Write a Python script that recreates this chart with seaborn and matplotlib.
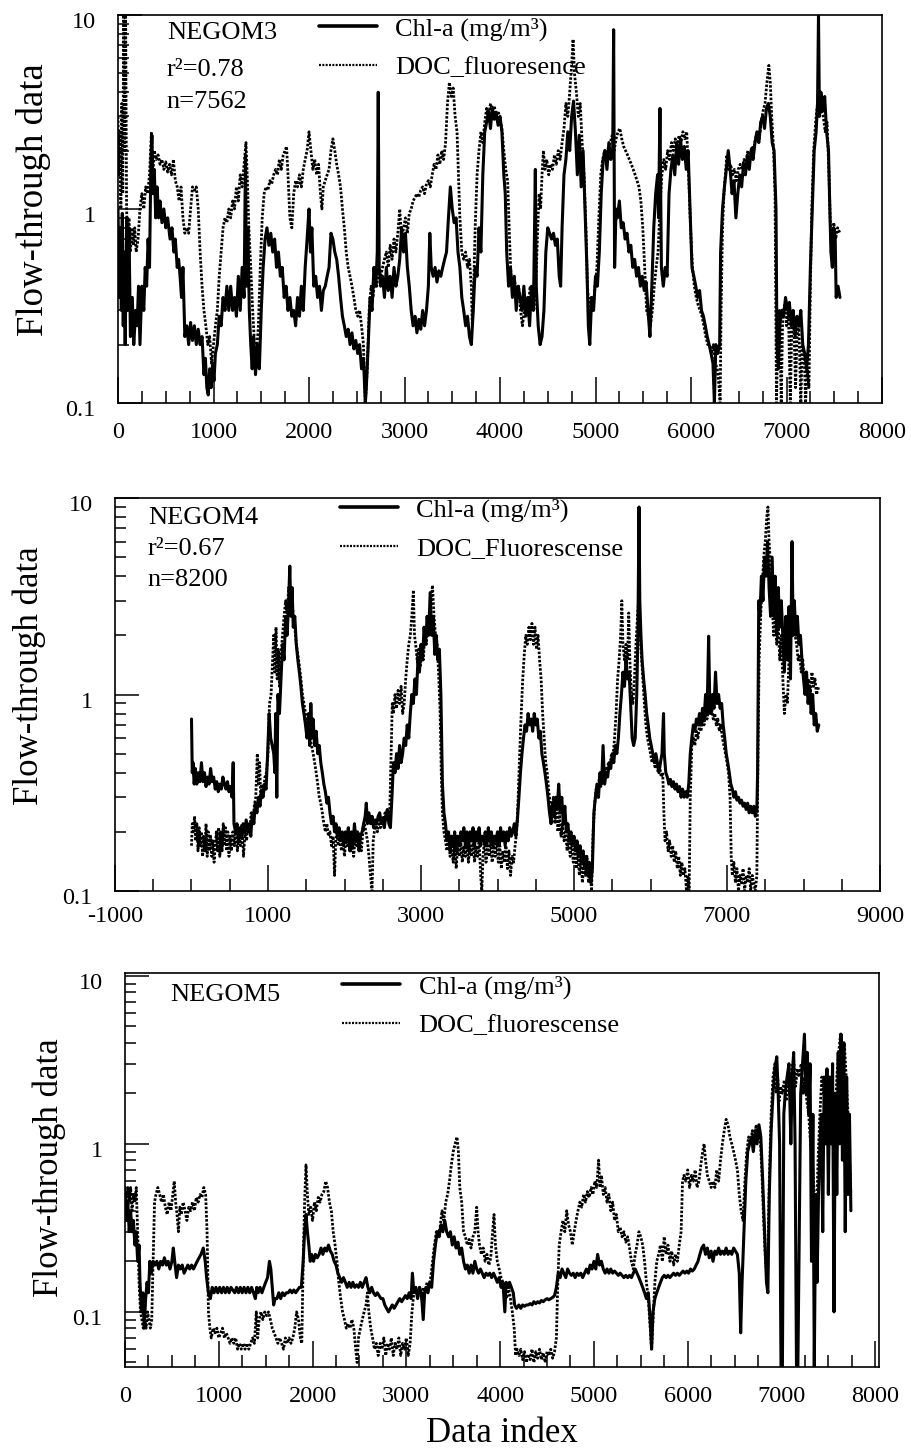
import matplotlib
matplotlib.use("Agg")
import numpy as np
import pandas as pd
import matplotlib.pyplot as plt
import matplotlib.transforms as mtransforms
from matplotlib.ticker import FixedLocator, FixedFormatter, LogLocator, NullFormatter
import seaborn as sns

# ---------------- data: (data index, value) pairs ----------------
negom3_chl = [(0,1.0),(15,0.35),(25,0.8),(35,0.3),(45,0.95),(55,0.25),(65,0.6),(75,0.2),(90,0.9),(100,0.3),(115,0.8),(130,0.22),(150,0.35),(165,0.2),(185,0.3),(200,0.25),(215,0.4),(230,0.2),(250,0.4),(270,0.3),(285,0.5),(300,0.4),(315,0.7),(330,0.5),(345,1.8),(355,2.4),(365,1.2),(380,1.6),(395,0.9),(410,1.3),(425,0.9),(440,1.1),(460,0.85),(480,1.0),(500,0.8),(520,0.9),(545,0.7),(565,0.8),(585,0.6),(600,0.7),(620,0.5),(635,0.55),(650,0.45),(665,0.35),(680,0.5),(700,0.22),(720,0.25),(740,0.2),(760,0.26),(780,0.21),(800,0.25),(820,0.2),(840,0.24),(860,0.2),(880,0.22),(900,0.14),(915,0.17),(930,0.12),(945,0.11),(960,0.15),(975,0.12),(990,0.16),(1005,0.13),(1020,0.18),(1040,0.2),(1060,0.28),(1080,0.25),(1100,0.35),(1120,0.3),(1140,0.4),(1160,0.3),(1180,0.4),(1200,0.3),(1220,0.35),(1240,0.28),(1260,0.45),(1280,0.3),(1300,0.5),(1320,0.35),(1335,1.9),(1345,0.4),(1360,0.8),(1375,0.3),(1390,0.2),(1405,0.15),(1420,0.22),(1440,0.14),(1460,0.2),(1480,0.15),(1500,0.3),(1520,0.5),(1540,0.7),(1560,0.8),(1580,0.65),(1600,0.75),(1620,0.6),(1640,0.7),(1660,0.5),(1680,0.6),(1700,0.45),(1720,0.5),(1740,0.35),(1760,0.4),(1780,0.3),(1800,0.35),(1820,0.28),(1840,0.3),(1860,0.25),(1880,0.35),(1900,0.28),(1920,0.4),(1940,0.3),(1960,0.5),(1980,0.7),(2000,1.0),(2015,0.6),(2030,0.8),(2050,0.4),(2070,0.45),(2090,0.35),(2110,0.4),(2130,0.3),(2150,0.38),(2170,0.4),(2190,0.45),(2210,0.5),(2230,0.75),(2250,0.7),(2270,0.6),(2290,0.55),(2310,0.45),(2330,0.35),(2350,0.28),(2370,0.25),(2390,0.22),(2410,0.24),(2430,0.2),(2450,0.23),(2470,0.19),(2490,0.21),(2510,0.18),(2530,0.2),(2550,0.15),(2570,0.17),(2590,0.1),(2600,0.12),(2620,0.2),(2640,0.35),(2660,0.3),(2680,0.5),(2700,0.4),(2715,0.6),(2725,4.0),(2735,0.5),(2750,0.4),(2770,0.45),(2790,0.35),(2810,0.5),(2830,0.38),(2850,0.45),(2870,0.35),(2890,0.5),(2910,0.4),(2930,0.45),(2950,0.55),(2970,0.8),(2990,0.6),(3010,0.75),(3030,0.5),(3050,0.4),(3070,0.3),(3090,0.25),(3110,0.28),(3130,0.23),(3150,0.27),(3170,0.24),(3190,0.3),(3210,0.25),(3230,0.3),(3250,0.4),(3265,0.75),(3280,0.5),(3300,0.45),(3320,0.5),(3340,0.42),(3360,0.48),(3380,0.45),(3400,0.5),(3420,0.55),(3440,0.6),(3460,0.9),(3480,1.3),(3500,1.0),(3520,0.85),(3540,0.9),(3560,0.6),(3580,0.5),(3600,0.35),(3620,0.3),(3640,0.25),(3660,0.28),(3680,0.22),(3700,0.2),(3720,0.3),(3740,0.5),(3760,0.45),(3780,0.8),(3800,0.6),(3820,1.5),(3840,2.5),(3860,2.8),(3880,3.2),(3900,2.6),(3920,3.3),(3940,2.9),(3960,3.1),(3980,2.7),(4000,3.0),(4020,2.5),(4040,1.5),(4055,1.2),(4070,0.6),(4090,0.4),(4110,0.5),(4130,0.35),(4150,0.45),(4170,0.3),(4190,0.4),(4210,0.35),(4230,0.3),(4250,0.4),(4270,0.28),(4290,0.35),(4310,0.25),(4330,0.4),(4350,0.3),(4370,1.6),(4380,0.4),(4400,0.25),(4420,0.2),(4440,0.22),(4460,0.3),(4480,0.6),(4500,0.8),(4520,0.75),(4540,0.7),(4560,0.75),(4580,0.65),(4600,0.7),(4620,0.45),(4635,0.4),(4650,0.8),(4670,1.5),(4690,1.8),(4710,2.5),(4730,2.0),(4750,3.0),(4770,3.6),(4790,2.5),(4810,1.5),(4830,2.4),(4850,1.3),(4870,2.0),(4890,1.0),(4910,0.5),(4925,0.25),(4940,0.2),(4960,0.35),(4980,0.3),(5000,0.45),(5020,0.4),(5040,0.6),(5060,1.2),(5080,1.8),(5100,2.0),(5120,1.6),(5140,2.2),(5160,1.8),(5180,2.0),(5190,8.4),(5200,0.5),(5215,1.0),(5230,0.9),(5250,1.1),(5270,0.8),(5290,0.85),(5310,0.7),(5330,0.75),(5350,0.6),(5370,0.65),(5390,0.5),(5410,0.55),(5430,0.45),(5450,0.5),(5470,0.4),(5490,0.45),(5510,0.38),(5530,0.42),(5550,0.3),(5570,0.22),(5590,0.4),(5610,0.8),(5630,1.2),(5650,1.5),(5660,0.9),(5675,3.3),(5690,0.5),(5710,0.4),(5730,0.5),(5750,0.45),(5770,1.2),(5790,1.6),(5810,1.9),(5830,1.5),(5850,2.2),(5870,1.7),(5890,2.3),(5910,1.8),(5930,2.1),(5950,1.6),(5970,2.0),(5990,1.0),(6010,0.5),(6030,0.45),(6050,0.4),(6070,0.35),(6090,0.38),(6110,0.3),(6130,0.28),(6150,0.25),(6170,0.22),(6190,0.2),(6210,0.18),(6230,0.16),(6245,0.1),(6260,0.2),(6280,0.18),(6300,0.2),(6310,0.6),(6330,1.0),(6350,1.3),(6370,1.6),(6390,2.0),(6410,1.6),(6430,1.2),(6450,1.4),(6470,0.9),(6490,1.2),(6510,1.5),(6530,1.3),(6550,1.7),(6570,1.5),(6590,1.9),(6610,1.6),(6630,2.0),(6650,1.8),(6670,2.2),(6690,2.5),(6710,2.2),(6730,2.8),(6750,3.0),(6770,2.6),(6790,3.3),(6810,3.5),(6830,3.0),(6850,2.2),(6870,2.0),(6890,1.0),(6900,0.2),(6915,0.15),(6930,0.25),(6950,0.3),(6970,0.28),(6990,0.35),(7010,0.3),(7030,0.33),(7050,0.25),(7070,0.3),(7090,0.22),(7110,0.28),(7130,0.25),(7150,0.3),(7170,0.2),(7190,0.18),(7210,0.15),(7230,0.2),(7250,0.5),(7270,1.0),(7290,2.0),(7310,2.5),(7325,3.5),(7335,10.0),(7345,3.0),(7360,4.0),(7380,3.2),(7400,3.8),(7420,2.5),(7440,2.0),(7450,1.2),(7465,0.6),(7480,0.5),(7495,0.8),(7510,0.7),(7520,0.35),(7540,0.4),(7560,0.35)]

negom3_doc = [(0,3.0),(10,1.5),(20,2.5),(30,1.0),(40,3.5),(50,1.2),(60,10.0),(70,2.0),(80,10.0),(90,1.0),(100,0.7),(115,0.9),(130,0.6),(145,0.8),(160,0.65),(175,0.8),(190,0.6),(210,0.7),(230,1.0),(250,1.2),(270,1.0),(290,1.3),(310,1.2),(330,1.5),(350,2.5),(365,1.5),(380,2.0),(400,1.8),(420,1.9),(440,1.7),(460,1.8),(480,1.6),(500,1.75),(520,1.55),(540,1.7),(560,1.5),(580,1.8),(600,1.4),(620,1.3),(640,1.1),(660,1.3),(680,0.9),(700,0.75),(720,0.8),(740,0.75),(760,1.0),(780,1.3),(800,1.25),(820,1.3),(840,1.0),(860,0.6),(880,0.4),(900,0.3),(920,0.25),(940,0.2),(960,0.22),(980,0.16),(1000,0.2),(1020,0.25),(1040,0.3),(1060,0.45),(1080,0.6),(1100,0.8),(1120,0.9),(1140,0.85),(1160,1.0),(1180,0.9),(1200,1.1),(1220,1.0),(1240,1.3),(1260,1.1),(1280,1.5),(1300,1.3),(1320,1.7),(1340,2.2),(1355,1.4),(1370,0.8),(1390,0.5),(1410,0.3),(1430,0.2),(1450,0.18),(1470,0.25),(1490,0.5),(1510,0.9),(1530,1.2),(1550,1.3),(1570,1.25),(1590,1.4),(1610,1.35),(1630,1.5),(1650,1.6),(1670,1.5),(1690,1.8),(1710,1.6),(1730,1.9),(1750,2.0),(1765,2.1),(1780,1.5),(1800,0.9),(1820,0.8),(1840,1.2),(1860,1.4),(1880,1.3),(1900,1.5),(1920,1.3),(1940,1.6),(1960,1.8),(1980,2.0),(2000,2.5),(2020,2.0),(2040,1.6),(2060,1.8),(2080,1.5),(2100,1.7),(2120,1.2),(2135,1.0),(2150,1.3),(2170,1.4),(2190,1.5),(2210,1.6),(2230,2.0),(2250,2.3),(2270,2.0),(2290,1.7),(2310,1.5),(2330,1.3),(2350,1.0),(2370,0.8),(2390,0.6),(2410,0.5),(2430,0.45),(2450,0.4),(2470,0.35),(2490,0.3),(2510,0.28),(2530,0.3),(2550,0.25),(2570,0.2),(2590,0.1),(2610,0.15),(2630,0.3),(2650,0.4),(2670,0.35),(2690,0.45),(2710,0.4),(2730,0.5),(2750,0.45),(2770,0.5),(2790,0.55),(2810,0.6),(2830,0.5),(2850,0.65),(2870,0.55),(2890,0.7),(2910,0.6),(2930,0.75),(2950,1.0),(2970,0.7),(2990,0.8),(3010,0.9),(3030,0.75),(3050,0.95),(3070,1.0),(3090,1.1),(3110,1.15),(3130,1.2),(3150,1.15),(3170,1.25),(3190,1.3),(3210,1.2),(3230,1.35),(3250,1.4),(3270,1.3),(3290,1.5),(3310,1.7),(3330,1.6),(3350,1.9),(3370,1.7),(3390,2.0),(3410,1.8),(3430,2.2),(3450,3.5),(3470,4.5),(3490,3.8),(3510,4.2),(3530,3.0),(3550,2.5),(3565,1.5),(3580,0.9),(3600,0.6),(3620,0.55),(3640,0.6),(3660,0.5),(3680,0.55),(3700,0.4),(3710,0.25),(3725,0.4),(3740,0.8),(3760,1.5),(3780,2.0),(3800,2.5),(3820,2.2),(3840,2.8),(3860,3.3),(3880,3.0),(3900,3.5),(3920,3.2),(3940,3.4),(3960,3.0),(3980,3.2),(4000,2.9),(4020,2.6),(4040,2.0),(4060,1.6),(4080,1.4),(4100,0.7),(4115,0.45),(4135,0.4),(4155,0.42),(4175,0.35),(4195,0.4),(4215,0.3),(4235,0.25),(4255,0.3),(4275,0.35),(4295,0.3),(4315,0.4),(4335,0.35),(4355,0.3),(4375,0.4),(4395,0.8),(4410,1.2),(4425,1.0),(4440,1.5),(4455,2.0),(4470,1.6),(4490,1.8),(4510,1.5),(4530,1.7),(4550,1.6),(4570,1.9),(4590,1.7),(4610,2.0),(4630,1.8),(4650,2.2),(4670,2.6),(4690,3.5),(4710,3.0),(4730,4.0),(4750,5.5),(4765,7.5),(4780,5.0),(4800,4.0),(4820,3.0),(4840,3.5),(4860,2.2),(4880,1.5),(4900,0.8),(4915,0.4),(4935,0.3),(4955,0.35),(4975,0.3),(4995,0.4),(5015,0.5),(5035,0.9),(5055,1.5),(5075,1.8),(5095,2.0),(5115,1.7),(5135,2.1),(5155,2.2),(5175,2.4),(5195,2.0),(5215,2.3),(5235,2.5),(5255,2.6),(5275,2.3),(5295,2.1),(5315,2.0),(5335,1.9),(5355,1.8),(5375,1.7),(5395,1.6),(5415,1.5),(5435,1.4),(5455,1.3),(5475,1.1),(5495,0.8),(5515,0.5),(5535,0.3),(5555,0.28),(5575,0.25),(5595,0.3),(5615,0.4),(5635,0.5),(5655,0.6),(5675,1.0),(5695,1.5),(5715,1.8),(5735,1.6),(5755,2.0),(5775,1.8),(5795,2.2),(5815,2.0),(5835,2.3),(5855,2.1),(5875,2.4),(5895,2.2),(5915,2.5),(5935,2.3),(5955,2.5),(5975,1.5),(5995,0.8),(6015,0.5),(6035,0.4),(6055,0.35),(6075,0.32),(6095,0.3),(6115,0.28),(6135,0.25),(6155,0.22),(6175,0.2),(6195,0.2),(6215,0.18),(6235,0.2),(6255,0.16),(6275,0.15),(6295,0.12),(6305,0.1),(6315,0.3),(6330,0.8),(6345,1.2),(6360,1.5),(6375,1.9),(6395,1.6),(6415,1.7),(6435,1.5),(6455,1.6),(6475,1.4),(6495,1.6),(6515,1.7),(6535,1.6),(6555,1.8),(6575,1.7),(6595,2.0),(6615,1.8),(6635,2.1),(6655,2.0),(6675,2.3),(6695,2.5),(6715,2.3),(6735,2.8),(6755,3.2),(6775,3.5),(6795,4.5),(6815,5.5),(6830,4.5),(6845,3.0),(6865,2.0),(6880,1.2),(6895,0.1),(6910,0.25),(6925,0.3),(6945,0.1),(6960,0.28),(6980,0.32),(7000,0.25),(7020,0.3),(7040,0.1),(7055,0.25),(7075,0.28),(7095,0.12),(7110,0.22),(7130,0.25),(7150,0.1),(7165,0.2),(7185,0.18),(7200,0.1),(7215,0.15),(7235,0.12),(7250,0.4),(7265,1.0),(7285,2.0),(7305,2.8),(7325,3.5),(7345,3.8),(7365,3.2),(7385,3.0),(7405,2.5),(7425,2.8),(7445,1.5),(7460,0.8),(7475,0.6),(7495,0.85),(7515,0.7),(7535,0.8),(7560,0.75)]

negom4_chl = [(0,0.75),(10,0.4),(20,0.45),(35,0.35),(50,0.42),(70,0.35),(90,0.4),(110,0.36),(130,0.45),(150,0.36),(170,0.4),(190,0.34),(210,0.38),(230,0.35),(250,0.42),(270,0.36),(290,0.38),(310,0.33),(330,0.36),(350,0.32),(370,0.35),(390,0.33),(410,0.38),(430,0.35),(450,0.33),(470,0.36),(490,0.32),(510,0.34),(530,0.3),(545,0.45),(555,0.22),(575,0.2),(595,0.22),(615,0.18),(635,0.21),(655,0.19),(675,0.22),(695,0.2),(715,0.23),(735,0.2),(755,0.22),(775,0.19),(795,0.25),(815,0.22),(835,0.28),(855,0.25),(875,0.3),(895,0.27),(915,0.32),(935,0.3),(955,0.35),(975,0.33),(995,0.5),(1015,0.8),(1035,0.6),(1055,0.55),(1075,0.5),(1090,0.4),(1100,0.8),(1115,0.3),(1130,1.0),(1150,0.8),(1170,1.2),(1190,1.8),(1210,1.5),(1230,2.5),(1250,2.0),(1270,3.0),(1285,4.5),(1300,2.5),(1315,3.5),(1330,2.2),(1350,2.5),(1370,1.8),(1390,1.5),(1410,1.3),(1430,1.1),(1450,0.9),(1470,0.8),(1490,0.7),(1510,0.6),(1530,0.8),(1545,0.55),(1560,0.9),(1575,0.6),(1590,0.75),(1610,0.55),(1630,0.65),(1650,0.5),(1670,0.55),(1690,0.45),(1710,0.4),(1730,0.35),(1750,0.32),(1770,0.28),(1790,0.3),(1810,0.25),(1830,0.22),(1850,0.24),(1870,0.2),(1890,0.22),(1910,0.19),(1930,0.21),(1950,0.18),(1970,0.2),(1990,0.17),(2010,0.2),(2030,0.18),(2050,0.21),(2070,0.16),(2090,0.2),(2110,0.17),(2130,0.22),(2150,0.18),(2170,0.2),(2190,0.16),(2210,0.19),(2230,0.2),(2250,0.22),(2270,0.24),(2285,0.28),(2300,0.22),(2320,0.25),(2340,0.22),(2360,0.24),(2380,0.21),(2400,0.23),(2420,0.22),(2440,0.24),(2460,0.25),(2480,0.22),(2500,0.23),(2520,0.21),(2540,0.24),(2560,0.26),(2580,0.22),(2600,0.21),(2620,0.3),(2640,0.45),(2660,0.4),(2680,0.5),(2700,0.42),(2720,0.55),(2740,0.45),(2760,0.5),(2780,0.6),(2800,0.55),(2820,0.7),(2840,0.6),(2860,0.8),(2880,1.0),(2900,0.9),(2920,1.2),(2940,1.0),(2960,1.5),(2980,1.3),(3000,1.8),(3020,1.5),(3040,2.2),(3060,1.8),(3080,2.5),(3100,2.0),(3120,3.3),(3140,2.0),(3160,2.5),(3180,1.6),(3200,2.0),(3220,1.5),(3240,1.7),(3260,1.0),(3280,0.35),(3300,0.25),(3320,0.22),(3340,0.18),(3360,0.2),(3380,0.16),(3400,0.19),(3420,0.17),(3440,0.2),(3460,0.16),(3480,0.19),(3500,0.17),(3520,0.2),(3540,0.18),(3560,0.21),(3580,0.17),(3600,0.2),(3620,0.16),(3640,0.2),(3660,0.18),(3680,0.21),(3700,0.17),(3720,0.2),(3740,0.18),(3760,0.21),(3780,0.17),(3800,0.19),(3820,0.18),(3840,0.2),(3860,0.17),(3880,0.21),(3900,0.18),(3920,0.2),(3940,0.17),(3960,0.19),(3980,0.18),(4000,0.2),(4020,0.17),(4040,0.21),(4060,0.18),(4080,0.2),(4100,0.17),(4120,0.2),(4140,0.18),(4160,0.21),(4180,0.19),(4200,0.2),(4220,0.22),(4240,0.19),(4260,0.23),(4280,0.3),(4300,0.4),(4320,0.5),(4340,0.6),(4360,0.7),(4380,0.65),(4400,0.8),(4420,0.7),(4440,0.75),(4460,0.65),(4480,0.8),(4500,0.7),(4520,0.75),(4540,0.6),(4560,0.65),(4580,0.5),(4600,0.45),(4620,0.4),(4640,0.35),(4660,0.3),(4680,0.25),(4700,0.22),(4720,0.28),(4740,0.24),(4760,0.3),(4780,0.26),(4800,0.35),(4820,0.25),(4840,0.3),(4860,0.22),(4880,0.27),(4900,0.2),(4920,0.22),(4940,0.18),(4960,0.2),(4980,0.17),(5000,0.19),(5020,0.16),(5040,0.18),(5060,0.15),(5080,0.17),(5100,0.14),(5120,0.16),(5140,0.13),(5160,0.15),(5180,0.12),(5200,0.14),(5220,0.11),(5240,0.13),(5260,0.25),(5280,0.3),(5300,0.35),(5320,0.3),(5340,0.4),(5360,0.35),(5380,0.55),(5400,0.35),(5420,0.4),(5440,0.38),(5460,0.45),(5480,0.42),(5500,0.5),(5520,0.45),(5540,0.55),(5560,0.5),(5580,0.6),(5600,0.8),(5620,1.0),(5640,1.3),(5660,1.1),(5680,1.5),(5700,1.2),(5720,1.3),(5740,0.9),(5760,0.6),(5780,0.55),(5800,0.6),(5820,1.0),(5835,2.0),(5850,9.0),(5860,3.0),(5875,2.0),(5890,1.5),(5910,1.2),(5930,1.0),(5950,0.8),(5970,0.7),(5990,0.6),(6010,0.55),(6030,0.5),(6050,0.45),(6070,0.5),(6090,0.45),(6110,0.4),(6130,0.45),(6150,0.5),(6170,0.8),(6180,0.5),(6200,0.4),(6220,0.38),(6240,0.35),(6260,0.37),(6280,0.34),(6300,0.36),(6320,0.33),(6340,0.35),(6360,0.32),(6380,0.34),(6400,0.3),(6420,0.33),(6440,0.3),(6460,0.32),(6480,0.3),(6500,0.35),(6520,0.5),(6540,0.6),(6560,0.7),(6580,0.65),(6600,0.75),(6620,0.7),(6640,0.8),(6660,0.7),(6680,0.85),(6700,0.75),(6720,1.0),(6740,0.8),(6760,1.98),(6775,0.9),(6790,0.8),(6810,1.0),(6830,0.85),(6850,1.3),(6870,0.9),(6890,1.0),(6910,0.85),(6930,0.9),(6950,0.7),(6970,0.6),(6990,0.5),(7010,0.45),(7030,0.4),(7050,0.35),(7070,0.33),(7090,0.3),(7110,0.32),(7130,0.29),(7150,0.3),(7170,0.28),(7190,0.29),(7210,0.27),(7230,0.28),(7250,0.26),(7270,0.28),(7290,0.25),(7310,0.27),(7330,0.25),(7350,0.27),(7370,0.24),(7390,0.26),(7400,0.4),(7415,3.0),(7430,2.5),(7450,4.0),(7470,3.0),(7490,5.0),(7510,4.0),(7530,6.0),(7550,3.5),(7570,2.5),(7590,5.0),(7610,2.5),(7630,4.0),(7650,2.0),(7670,3.5),(7690,2.2),(7710,3.0),(7730,2.0),(7750,1.3),(7770,2.5),(7790,1.5),(7810,2.8),(7830,1.2),(7850,6.0),(7865,2.0),(7880,3.0),(7900,2.0),(7920,2.5),(7940,1.8),(7960,2.0),(7980,1.5),(8000,1.2),(8020,1.0),(8040,1.3),(8060,0.9),(8080,1.1),(8100,0.8),(8120,1.0),(8140,0.7),(8160,0.8),(8180,0.65),(8200,0.7)]

negom4_doc = [(0,0.17),(10,0.22),(25,0.2),(40,0.24),(55,0.18),(70,0.22),(85,0.16),(100,0.21),(115,0.17),(130,0.2),(145,0.15),(160,0.19),(175,0.16),(190,0.22),(205,0.15),(220,0.2),(235,0.16),(250,0.19),(265,0.15),(280,0.18),(295,0.14),(310,0.17),(325,0.2),(340,0.16),(355,0.21),(370,0.15),(385,0.2),(400,0.16),(415,0.22),(430,0.17),(445,0.21),(460,0.16),(475,0.2),(490,0.15),(505,0.19),(520,0.16),(540,0.2),(560,0.17),(580,0.21),(600,0.16),(620,0.2),(640,0.17),(660,0.22),(680,0.15),(700,0.2),(720,0.18),(740,0.22),(760,0.2),(780,0.25),(800,0.22),(820,0.27),(840,0.3),(860,0.5),(875,0.35),(890,0.45),(905,0.3),(920,0.35),(940,0.32),(960,0.38),(980,0.4),(1000,0.5),(1020,0.9),(1040,1.0),(1060,1.5),(1075,2.0),(1090,1.3),(1105,2.2),(1120,1.2),(1135,1.7),(1150,1.1),(1170,1.6),(1190,2.0),(1210,2.5),(1230,3.0),(1250,2.6),(1270,3.5),(1290,2.8),(1310,3.2),(1330,2.5),(1350,2.2),(1370,1.8),(1390,1.6),(1410,1.4),(1430,1.2),(1450,1.0),(1470,0.9),(1490,0.8),(1510,0.75),(1530,0.7),(1550,0.6),(1570,0.55),(1590,0.5),(1610,0.45),(1630,0.4),(1650,0.35),(1670,0.3),(1690,0.28),(1710,0.25),(1730,0.22),(1750,0.2),(1770,0.22),(1790,0.19),(1810,0.2),(1830,0.17),(1850,0.19),(1870,0.12),(1885,0.18),(1900,0.2),(1920,0.17),(1940,0.19),(1960,0.16),(1980,0.18),(2000,0.15),(2020,0.19),(2040,0.17),(2060,0.2),(2080,0.16),(2100,0.18),(2120,0.15),(2140,0.19),(2160,0.17),(2180,0.2),(2200,0.18),(2220,0.16),(2240,0.2),(2260,0.22),(2280,0.2),(2300,0.18),(2320,0.15),(2340,0.12),(2360,0.1),(2375,0.18),(2390,0.2),(2410,0.22),(2430,0.2),(2450,0.23),(2470,0.21),(2490,0.24),(2510,0.22),(2530,0.25),(2550,0.23),(2570,0.26),(2590,0.24),(2610,0.5),(2625,0.9),(2640,0.8),(2660,1.0),(2680,0.85),(2700,1.05),(2720,0.9),(2740,1.1),(2760,0.8),(2780,0.9),(2800,1.2),(2820,1.5),(2840,1.8),(2860,2.0),(2880,2.5),(2900,3.4),(2915,2.0),(2930,1.8),(2950,1.5),(2970,1.7),(2990,1.4),(3010,1.6),(3030,1.5),(3050,2.0),(3070,1.8),(3090,2.5),(3110,2.2),(3130,3.0),(3150,3.6),(3170,2.5),(3190,2.0),(3210,1.8),(3230,1.3),(3250,0.8),(3265,0.4),(3280,0.25),(3300,0.2),(3320,0.18),(3340,0.16),(3360,0.19),(3380,0.15),(3400,0.18),(3420,0.14),(3440,0.17),(3460,0.13),(3480,0.17),(3500,0.15),(3520,0.18),(3540,0.14),(3560,0.17),(3580,0.15),(3600,0.18),(3620,0.14),(3640,0.17),(3660,0.15),(3680,0.18),(3700,0.14),(3720,0.17),(3740,0.15),(3760,0.18),(3780,0.12),(3795,0.1),(3810,0.15),(3830,0.18),(3850,0.14),(3870,0.17),(3890,0.15),(3910,0.18),(3930,0.14),(3950,0.17),(3970,0.15),(3990,0.18),(4010,0.14),(4030,0.17),(4050,0.13),(4070,0.16),(4090,0.14),(4110,0.17),(4130,0.13),(4150,0.16),(4170,0.12),(4190,0.15),(4210,0.14),(4230,0.17),(4250,0.2),(4270,0.3),(4290,0.5),(4310,0.8),(4330,1.2),(4350,1.6),(4370,2.0),(4390,1.8),(4410,2.2),(4430,1.9),(4450,2.3),(4470,1.8),(4490,2.2),(4510,1.7),(4530,2.0),(4550,1.5),(4570,1.2),(4590,0.8),(4610,0.6),(4630,0.45),(4650,0.4),(4670,0.32),(4690,0.28),(4710,0.25),(4730,0.3),(4750,0.22),(4770,0.28),(4790,0.2),(4810,0.25),(4830,0.19),(4850,0.22),(4870,0.18),(4890,0.2),(4910,0.16),(4930,0.19),(4950,0.15),(4970,0.18),(4990,0.14),(5010,0.17),(5030,0.13),(5050,0.16),(5070,0.12),(5090,0.15),(5110,0.11),(5130,0.14),(5150,0.12),(5170,0.15),(5190,0.11),(5210,0.13),(5230,0.1),(5250,0.2),(5270,0.28),(5290,0.33),(5310,0.3),(5330,0.38),(5350,0.34),(5370,0.4),(5390,0.36),(5410,0.42),(5430,0.4),(5450,0.45),(5470,0.43),(5490,0.5),(5510,0.48),(5530,0.6),(5550,0.8),(5570,1.2),(5590,1.5),(5610,2.0),(5625,3.0),(5640,1.8),(5660,1.5),(5680,1.8),(5700,1.5),(5715,2.6),(5730,1.5),(5750,1.0),(5770,0.9),(5790,1.2),(5810,1.8),(5830,2.5),(5845,3.0),(5860,2.2),(5880,1.6),(5900,1.2),(5920,0.9),(5940,0.7),(5960,0.6),(5980,0.55),(6000,0.5),(6020,0.45),(6040,0.48),(6060,0.42),(6080,0.45),(6100,0.4),(6120,0.43),(6140,0.38),(6160,0.4),(6175,0.25),(6190,0.18),(6210,0.2),(6230,0.16),(6250,0.18),(6270,0.15),(6290,0.17),(6310,0.14),(6330,0.16),(6350,0.13),(6370,0.15),(6390,0.12),(6410,0.14),(6430,0.12),(6450,0.13),(6470,0.1),(6490,0.12),(6505,0.1),(6520,0.3),(6540,0.55),(6560,0.6),(6580,0.55),(6600,0.65),(6620,0.6),(6640,0.7),(6660,0.65),(6680,0.75),(6700,0.7),(6720,0.8),(6740,0.75),(6760,0.9),(6780,0.8),(6800,0.85),(6820,0.75),(6840,0.8),(6860,0.7),(6880,0.75),(6900,0.65),(6920,0.7),(6940,0.6),(6960,0.55),(6980,0.5),(7000,0.45),(7020,0.4),(7040,0.3),(7055,0.15),(7070,0.12),(7090,0.14),(7110,0.11),(7130,0.13),(7150,0.1),(7170,0.12),(7190,0.11),(7210,0.13),(7230,0.1),(7250,0.12),(7270,0.11),(7290,0.13),(7310,0.1),(7330,0.12),(7350,0.11),(7370,0.1),(7390,0.12),(7405,0.5),(7420,1.5),(7440,2.5),(7460,3.5),(7480,5.0),(7500,6.0),(7520,8.0),(7535,9.0),(7550,6.0),(7570,4.5),(7590,3.0),(7610,2.0),(7630,2.5),(7650,1.8),(7670,2.2),(7690,1.5),(7710,2.0),(7730,1.2),(7750,0.8),(7770,1.0),(7790,0.9),(7810,1.5),(7830,2.0),(7850,2.5),(7870,2.2),(7890,2.0),(7910,1.8),(7930,1.5),(7950,1.6),(7970,1.3),(7990,1.5),(8010,1.2),(8030,1.3),(8050,1.1),(8070,1.2),(8090,1.0),(8110,1.3),(8130,1.1),(8150,1.2),(8170,1.0),(8200,1.1)]

negom5_chl = [(0,0.55),(15,0.35),(30,0.45),(45,0.3),(60,0.4),(75,0.3),(90,0.35),(105,0.25),(120,0.3),(135,0.2),(150,0.25),(160,0.15),(175,0.1),(190,0.13),(205,0.08),(220,0.12),(235,0.15),(250,0.13),(265,0.2),(280,0.17),(300,0.2),(320,0.19),(340,0.2),(360,0.18),(380,0.2),(400,0.19),(420,0.21),(440,0.19),(460,0.2),(480,0.18),(500,0.2),(515,0.24),(530,0.2),(550,0.16),(570,0.19),(590,0.18),(610,0.19),(630,0.17),(650,0.18),(670,0.19),(690,0.18),(710,0.19),(730,0.18),(750,0.19),(770,0.2),(790,0.21),(810,0.22),(835,0.24),(855,0.2),(870,0.16),(890,0.13),(910,0.12),(930,0.14),(950,0.13),(970,0.14),(990,0.13),(1010,0.14),(1030,0.13),(1050,0.14),(1070,0.13),(1090,0.14),(1110,0.13),(1130,0.14),(1150,0.135),(1170,0.13),(1190,0.14),(1210,0.13),(1230,0.14),(1250,0.13),(1270,0.14),(1290,0.13),(1310,0.14),(1330,0.13),(1350,0.14),(1370,0.13),(1390,0.12),(1405,0.14),(1420,0.13),(1440,0.14),(1460,0.13),(1480,0.14),(1500,0.15),(1520,0.16),(1540,0.2),(1555,0.18),(1570,0.14),(1585,0.11),(1600,0.12),(1620,0.12),(1640,0.13),(1660,0.12),(1680,0.13),(1700,0.125),(1720,0.13),(1740,0.13),(1760,0.135),(1780,0.13),(1800,0.135),(1820,0.13),(1840,0.135),(1860,0.14),(1880,0.14),(1900,0.2),(1915,0.3),(1930,0.38),(1945,0.3),(1960,0.25),(1975,0.2),(1990,0.22),(2010,0.2),(2030,0.22),(2050,0.21),(2070,0.22),(2090,0.24),(2110,0.22),(2130,0.24),(2150,0.23),(2170,0.25),(2190,0.23),(2210,0.22),(2230,0.2),(2250,0.19),(2270,0.17),(2290,0.16),(2310,0.15),(2330,0.16),(2350,0.15),(2370,0.14),(2390,0.15),(2410,0.14),(2430,0.15),(2450,0.14),(2470,0.145),(2490,0.14),(2510,0.15),(2530,0.14),(2550,0.15),(2570,0.16),(2590,0.14),(2610,0.13),(2630,0.14),(2650,0.13),(2670,0.125),(2690,0.13),(2710,0.125),(2730,0.12),(2750,0.12),(2770,0.11),(2790,0.105),(2810,0.1),(2830,0.105),(2850,0.11),(2870,0.105),(2890,0.11),(2910,0.115),(2930,0.12),(2950,0.115),(2970,0.12),(2990,0.125),(3010,0.12),(3030,0.13),(3050,0.12),(3065,0.17),(3080,0.13),(3100,0.14),(3120,0.12),(3140,0.14),(3160,0.13),(3180,0.09),(3195,0.13),(3210,0.14),(3230,0.13),(3250,0.15),(3270,0.14),(3290,0.2),(3310,0.25),(3330,0.3),(3350,0.28),(3370,0.33),(3390,0.3),(3410,0.35),(3430,0.3),(3450,0.28),(3470,0.3),(3490,0.25),(3510,0.28),(3530,0.24),(3550,0.26),(3570,0.22),(3590,0.24),(3610,0.2),(3630,0.18),(3650,0.19),(3670,0.17),(3690,0.19),(3710,0.17),(3730,0.2),(3750,0.18),(3770,0.17),(3790,0.18),(3810,0.17),(3830,0.16),(3850,0.17),(3870,0.165),(3890,0.17),(3910,0.16),(3930,0.17),(3950,0.16),(3970,0.15),(3990,0.16),(4010,0.14),(4030,0.15),(4050,0.1),(4065,0.15),(4080,0.14),(4100,0.15),(4120,0.14),(4140,0.13),(4155,0.11),(4175,0.105),(4200,0.11),(4220,0.105),(4240,0.11),(4260,0.108),(4280,0.11),(4300,0.11),(4320,0.112),(4340,0.11),(4360,0.115),(4380,0.112),(4400,0.115),(4420,0.113),(4440,0.117),(4460,0.115),(4480,0.118),(4500,0.12),(4520,0.118),(4540,0.12),(4560,0.122),(4580,0.125),(4600,0.14),(4620,0.17),(4640,0.16),(4660,0.18),(4680,0.17),(4700,0.16),(4720,0.18),(4740,0.17),(4760,0.165),(4780,0.17),(4800,0.16),(4820,0.17),(4840,0.165),(4860,0.17),(4880,0.16),(4900,0.17),(4920,0.18),(4940,0.17),(4960,0.19),(4980,0.18),(5000,0.2),(5020,0.18),(5040,0.22),(5060,0.19),(5080,0.2),(5100,0.18),(5120,0.17),(5140,0.18),(5160,0.17),(5180,0.18),(5200,0.17),(5220,0.175),(5240,0.17),(5260,0.165),(5280,0.17),(5300,0.165),(5320,0.16),(5340,0.165),(5360,0.16),(5380,0.165),(5400,0.16),(5420,0.17),(5440,0.18),(5460,0.17),(5480,0.16),(5500,0.15),(5520,0.14),(5540,0.13),(5560,0.12),(5580,0.13),(5600,0.09),(5615,0.06),(5630,0.1),(5650,0.12),(5670,0.13),(5690,0.14),(5710,0.15),(5730,0.16),(5750,0.165),(5770,0.16),(5790,0.165),(5810,0.16),(5830,0.165),(5850,0.17),(5870,0.165),(5890,0.17),(5910,0.165),(5930,0.17),(5950,0.175),(5970,0.17),(5990,0.175),(6010,0.17),(6030,0.18),(6050,0.175),(6070,0.18),(6090,0.19),(6110,0.2),(6130,0.22),(6150,0.24),(6170,0.25),(6190,0.22),(6210,0.24),(6230,0.21),(6250,0.23),(6270,0.2),(6290,0.23),(6310,0.22),(6330,0.24),(6350,0.22),(6370,0.23),(6390,0.22),(6410,0.24),(6430,0.22),(6450,0.23),(6470,0.22),(6490,0.24),(6510,0.23),(6530,0.22),(6550,0.17),(6565,0.075),(6580,0.15),(6600,0.3),(6620,0.6),(6640,0.9),(6660,1.0),(6680,1.1),(6700,0.9),(6720,1.2),(6740,1.0),(6760,1.3),(6780,1.1),(6800,0.6),(6820,0.3),(6840,0.15),(6855,0.13),(6870,0.5),(6890,1.2),(6910,2.0),(6930,2.8),(6950,3.3),(6965,2.0),(6980,1.0),(6995,0.047),(7010,0.047),(7025,1.5),(7040,2.0),(7060,2.5),(7080,3.0),(7100,1.0),(7115,2.5),(7130,3.5),(7145,1.0),(7160,0.047),(7175,0.047),(7190,0.3),(7205,2.0),(7225,3.0),(7245,4.5),(7260,2.0),(7275,3.5),(7290,1.5),(7305,3.0),(7320,0.2),(7335,1.5),(7350,0.047),(7365,0.5),(7380,0.15),(7395,0.5),(7410,1.0),(7425,1.5),(7440,0.3),(7455,2.5),(7470,1.0),(7485,2.8),(7500,0.5),(7515,2.5),(7530,1.0),(7545,3.0),(7560,0.1),(7575,2.0),(7590,0.5),(7605,3.5),(7620,1.0),(7635,4.5),(7650,0.8),(7665,4.0),(7680,0.3),(7695,2.5),(7710,0.5),(7725,1.5),(7740,0.4)]

negom5_doc = [(0,0.5),(15,0.4),(30,0.55),(45,0.45),(60,0.55),(75,0.4),(90,0.5),(105,0.45),(120,0.55),(135,0.3),(150,0.15),(165,0.1),(180,0.09),(195,0.08),(210,0.09),(225,0.08),(240,0.1),(255,0.09),(270,0.08),(285,0.09),(300,0.2),(315,0.45),(330,0.5),(350,0.55),(370,0.5),(390,0.45),(410,0.5),(430,0.42),(450,0.38),(470,0.45),(490,0.4),(510,0.5),(525,0.6),(540,0.45),(555,0.38),(570,0.3),(585,0.42),(600,0.38),(620,0.45),(640,0.4),(660,0.35),(680,0.42),(700,0.4),(720,0.45),(740,0.4),(760,0.48),(780,0.45),(800,0.5),(820,0.48),(840,0.55),(860,0.5),(875,0.3),(890,0.1),(905,0.08),(920,0.07),(940,0.08),(960,0.075),(980,0.08),(1000,0.07),(1020,0.075),(1040,0.08),(1060,0.07),(1080,0.075),(1100,0.07),(1120,0.065),(1140,0.07),(1160,0.065),(1180,0.07),(1200,0.06),(1220,0.065),(1240,0.06),(1260,0.065),(1280,0.06),(1300,0.065),(1320,0.06),(1340,0.065),(1360,0.07),(1380,0.065),(1400,0.1),(1415,0.07),(1430,0.09),(1450,0.1),(1470,0.09),(1490,0.1),(1510,0.095),(1530,0.1),(1550,0.09),(1570,0.08),(1590,0.075),(1610,0.07),(1630,0.065),(1650,0.07),(1670,0.065),(1690,0.06),(1710,0.07),(1730,0.065),(1750,0.07),(1770,0.065),(1790,0.07),(1810,0.08),(1830,0.1),(1850,0.09),(1870,0.07),(1885,0.065),(1900,0.2),(1915,0.45),(1930,0.75),(1945,0.5),(1960,0.38),(1980,0.42),(2000,0.35),(2020,0.45),(2040,0.4),(2060,0.48),(2080,0.45),(2100,0.5),(2120,0.52),(2140,0.6),(2160,0.55),(2180,0.45),(2200,0.4),(2220,0.3),(2240,0.25),(2260,0.2),(2280,0.15),(2300,0.12),(2320,0.1),(2340,0.09),(2360,0.08),(2380,0.085),(2400,0.08),(2420,0.09),(2440,0.08),(2460,0.06),(2475,0.05),(2490,0.07),(2510,0.08),(2530,0.09),(2550,0.1),(2570,0.11),(2585,0.13),(2600,0.1),(2620,0.08),(2640,0.07),(2660,0.06),(2680,0.065),(2700,0.055),(2720,0.065),(2740,0.06),(2760,0.07),(2780,0.055),(2800,0.065),(2820,0.06),(2840,0.07),(2860,0.055),(2880,0.065),(2900,0.06),(2920,0.07),(2940,0.055),(2960,0.065),(2980,0.06),(3000,0.07),(3020,0.055),(3040,0.065),(3060,0.1),(3080,0.13),(3100,0.14),(3120,0.13),(3140,0.14),(3160,0.12),(3180,0.14),(3200,0.13),(3220,0.15),(3240,0.14),(3260,0.16),(3280,0.2),(3300,0.25),(3320,0.3),(3340,0.28),(3360,0.32),(3380,0.4),(3400,0.35),(3420,0.45),(3440,0.5),(3460,0.6),(3480,0.75),(3500,0.9),(3520,1.0),(3540,1.1),(3555,0.9),(3570,0.55),(3590,0.45),(3610,0.3),(3630,0.28),(3650,0.25),(3670,0.27),(3690,0.24),(3710,0.28),(3730,0.3),(3750,0.42),(3765,0.3),(3780,0.25),(3800,0.22),(3820,0.24),(3840,0.2),(3860,0.22),(3880,0.19),(3900,0.21),(3920,0.3),(3935,0.38),(3950,0.25),(3970,0.2),(3990,0.18),(4010,0.16),(4030,0.15),(4050,0.13),(4070,0.12),(4090,0.14),(4110,0.12),(4130,0.1),(4150,0.08),(4165,0.055),(4180,0.06),(4200,0.055),(4220,0.06),(4240,0.052),(4260,0.058),(4280,0.05),(4300,0.056),(4320,0.052),(4340,0.06),(4360,0.05),(4380,0.058),(4400,0.053),(4420,0.06),(4440,0.052),(4460,0.057),(4480,0.05),(4500,0.058),(4520,0.055),(4540,0.06),(4560,0.053),(4580,0.058),(4600,0.07),(4615,0.15),(4630,0.25),(4650,0.3),(4670,0.35),(4690,0.3),(4710,0.4),(4730,0.33),(4750,0.3),(4770,0.25),(4790,0.3),(4810,0.35),(4830,0.4),(4850,0.45),(4870,0.42),(4890,0.5),(4910,0.45),(4930,0.52),(4950,0.48),(4970,0.55),(4990,0.5),(5010,0.6),(5030,0.55),(5050,0.8),(5065,0.55),(5080,0.65),(5100,0.5),(5120,0.55),(5140,0.45),(5160,0.5),(5180,0.4),(5200,0.45),(5220,0.35),(5240,0.38),(5260,0.3),(5280,0.32),(5300,0.28),(5320,0.3),(5340,0.26),(5360,0.28),(5380,0.24),(5400,0.2),(5420,0.18),(5440,0.22),(5460,0.25),(5480,0.3),(5500,0.28),(5520,0.25),(5540,0.2),(5560,0.15),(5580,0.12),(5600,0.08),(5615,0.06),(5630,0.09),(5650,0.15),(5670,0.2),(5690,0.22),(5710,0.25),(5730,0.2),(5750,0.28),(5770,0.22),(5790,0.25),(5810,0.2),(5830,0.23),(5850,0.19),(5870,0.22),(5890,0.2),(5910,0.25),(5930,0.3),(5945,0.6),(5960,0.65),(5980,0.6),(6000,0.7),(6020,0.55),(6040,0.65),(6060,0.6),(6080,0.7),(6100,0.55),(6120,0.6),(6140,0.75),(6160,0.9),(6175,1.0),(6190,0.8),(6210,0.65),(6230,0.6),(6250,0.55),(6270,0.6),(6290,0.55),(6310,0.7),(6330,0.6),(6350,0.8),(6370,1.0),(6390,1.2),(6410,1.4),(6430,1.3),(6450,1.1),(6470,1.0),(6490,0.9),(6510,0.8),(6530,0.7),(6550,0.5),(6570,0.4),(6590,0.35),(6610,0.6),(6630,0.9),(6650,1.1),(6670,1.0),(6690,1.2),(6710,1.0),(6730,1.3),(6750,1.1),(6770,1.2),(6790,0.7),(6810,0.35),(6830,0.2),(6850,0.15),(6870,0.6),(6890,1.5),(6910,2.5),(6930,3.0),(6945,2.0),(6960,2.5),(6975,1.8),(6990,2.2),(7010,2.0),(7030,2.4),(7050,1.8),(7070,2.5),(7090,2.0),(7110,2.8),(7130,3.2),(7150,2.2),(7170,2.8),(7190,2.5),(7210,3.0),(7230,2.0),(7250,2.5),(7270,1.8),(7290,1.5),(7310,1.0),(7330,0.8),(7350,0.5),(7370,0.3),(7390,0.8),(7410,1.5),(7430,2.5),(7450,2.0),(7470,2.5),(7490,1.8),(7510,2.2),(7530,1.5),(7550,2.0),(7570,1.2),(7590,2.5),(7610,3.5),(7630,4.5),(7650,3.0),(7670,4.0),(7690,2.5),(7710,1.5),(7725,0.8),(7740,0.5)]

cruise_names = ["NEGOM3", "NEGOM4", "NEGOM5"]
r_squared = ["0.78", "0.67", None]
n_points = ["7562", "8200", None]
doc_labels = ["DOC_fluoresence", "DOC_Fluorescense", "DOC_fluorescense"]
chl_label = "Chl-a (mg/m\u00b3)"

x_major = [list(range(0, 8001, 1000)), list(range(-1000, 9001, 2000)), list(range(0, 8001, 1000))]
x_minor = [list(range(0, 8001, 250)), list(range(-1000, 9001, 500)), list(range(0, 8001, 250))]
x_limits = [(0, 8000), (-1000, 9000), (0, 8040)]
y_limits = [(0.1, 10), (0.1, 10), (0.047, 10.4)]

# ---------------- layout (pixels of a 912 x 1454 canvas) ----------------
W, H = 912, 1454
axes_px = [(118, 15, 882, 403), (115, 498, 880, 891), (125, 973, 879, 1367)]
ylabel_px = [(34, 200, 26.5), (29, 676, 25), (49, 1168, 25)]
legend_anchor = [(0.263, 0.995), (0.294, 1.0), (0.288, 0.995)]
info_pos = [(0.064, [0.954, 0.858, 0.776]), (0.043, [0.95, 0.869, 0.792]), (0.06, [0.943])]

sns.set_theme(style="ticks")
plt.rcParams["font.family"] = ["Liberation Serif", "DejaVu Serif"]
plt.rcParams["axes.unicode_minus"] = False
plt.rcParams["axes.edgecolor"] = "black"
plt.rcParams["xtick.color"] = "black"
plt.rcParams["ytick.color"] = "black"
plt.rcParams["text.color"] = "black"

fig = plt.figure(figsize=(W / 100, H / 100), dpi=100)
series = [(negom3_chl, negom3_doc), (negom4_chl, negom4_doc), (negom5_chl, negom5_doc)]

for i, (chl, doc) in enumerate(series):
    l, t, r, b = axes_px[i]
    ax = fig.add_axes([l / W, 1 - b / H, (r - l) / W, (b - t) / H])

    df_chl = pd.DataFrame(chl, columns=["index", "value"])
    df_doc = pd.DataFrame(doc, columns=["index", "value"])
    sns.lineplot(data=df_doc, x="index", y="value", ax=ax, color="black",
                 lw=2.0, linestyle=(0, (0.9, 0.6)), sort=False, estimator=None,
                 label=doc_labels[i])
    sns.lineplot(data=df_chl, x="index", y="value", ax=ax, color="black",
                 lw=2.2, sort=False, estimator=None, label=chl_label)

    ax.set_yscale("log")
    ax.set_xlim(*x_limits[i])
    ax.set_ylim(*y_limits[i])
    ax.set_xlabel("")
    ax.set_ylabel("")

    ax.xaxis.set_major_locator(FixedLocator(x_major[i]))
    ax.xaxis.set_major_formatter(FixedFormatter([str(v) for v in x_major[i]]))
    ax.xaxis.set_minor_locator(FixedLocator([v for v in x_minor[i] if v not in x_major[i]]))
    ax.yaxis.set_major_locator(FixedLocator([0.1, 1, 10]))
    ax.yaxis.set_major_formatter(FixedFormatter(["0.1", "1", "10"]))
    ax.yaxis.set_minor_locator(LogLocator(base=10, subs=np.arange(2, 10)))
    ax.yaxis.set_minor_formatter(NullFormatter())

    ax.tick_params(axis="x", which="major", direction="in", length=19, width=1.1,
                   labelsize=17.5, pad=14 if i != 1 else 11, top=False)
    ax.tick_params(axis="x", which="minor", direction="in", length=9, width=1.1, top=False)
    ax.tick_params(axis="y", which="major", direction="in", length=17, width=1.1,
                   labelsize=17.5, pad=16, right=False)
    ax.tick_params(axis="y", which="minor", direction="in", length=8, width=1.1, right=False)
    for lab in ax.get_yticklabels():
        lab.set_transform(lab.get_transform() +
                          mtransforms.ScaledTranslation(0, -0.05, fig.dpi_scale_trans))

    for sp in ax.spines.values():
        sp.set_visible(True)
        sp.set_linewidth(1.2)
        sp.set_color("black")

    handles, labels = ax.get_legend_handles_labels()
    order = [labels.index(chl_label), labels.index(doc_labels[i])]
    leg = ax.legend([handles[k] for k in order], [labels[k] for k in order],
                    loc="upper left", bbox_to_anchor=legend_anchor[i], frameon=False,
                    fontsize=19, handlelength=2.2, handletextpad=0.7, labelspacing=0.55,
                    borderpad=0, borderaxespad=0)
    leg.get_lines()[0].set_linewidth(2.6)
    leg.get_lines()[1].set_linewidth(1.6)

    tx, tys = info_pos[i]
    lines = [cruise_names[i]]
    if r_squared[i]:
        lines.append("r\u00b2=" + r_squared[i])
    if n_points[i]:
        lines.append("n=" + n_points[i])
    for txt, ty in zip(lines, tys):
        ax.text(tx, ty, txt, transform=ax.transAxes, fontsize=19, va="center", ha="left")

    yx, yy, ys = ylabel_px[i]
    fig.text(yx / W, 1 - yy / H, "Flow-through data", rotation=90,
             ha="center", va="center", fontsize=ys)

fig.text(502 / W, 1 - 1433 / H, "Data index", ha="center", va="center", fontsize=25)

fig.savefig("out.png", dpi=100)
